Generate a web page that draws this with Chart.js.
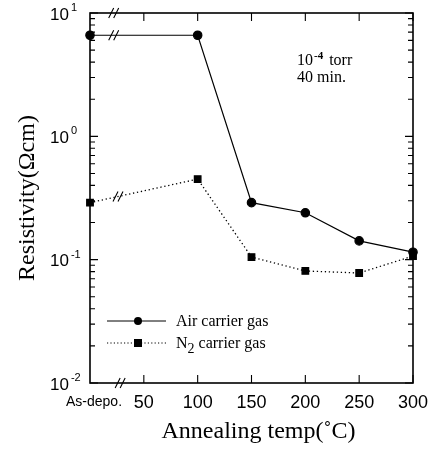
<!DOCTYPE html>
<html>
<head>
<meta charset="utf-8">
<script src="https://cdn.jsdelivr.net/npm/chart.js@4"></script>
<style>
  html, body { margin: 0; padding: 0; background: #fff; }
  #wrap { width: 435px; height: 449px; }
</style>
</head>
<body>
<div id="wrap"><canvas id="chart" width="435" height="449"></canvas></div>
<script>
// ---- data ----
const temps = [0, 100, 150, 200, 250, 300];           // 0 = as-deposited
const airRes = [6.6, 6.6, 0.29, 0.24, 0.142, 0.115];
const n2Res = [0.29, 0.45, 0.105, 0.081, 0.078, 0.107];
const seriesLabels = ["Air carrier gas", "N2 carrier gas"];

const xTicks = [50, 100, 150, 200, 250, 300];
const xTickLabels = ["50", "100", "150", "200", "250", "300"];
const firstLabel = "As-depo.";
const yExps = [1, 0, -1, -2];

const SANS = "'Liberation Sans', Arial, sans-serif";
const SERIF = "'Liberation Serif', 'Times New Roman', serif";

function pts(ys) {
  return temps.map((t, i) => ({ x: t, y: ys[i] }));
}

// draw "//" break mark
function breakMark(ctx, x, y) {
  ctx.save();
  ctx.strokeStyle = "#000";
  ctx.lineWidth = 1.1;
  ctx.beginPath();
  for (const dx of [-2.5, 2.5]) {
    ctx.moveTo(x + dx - 2.5, y + 5);
    ctx.lineTo(x + dx + 2.5, y - 5);
  }
  ctx.stroke();
  ctx.restore();
}

// text with superscript / subscript part
function richText(ctx, parts, x, y) {
  let cx = x;
  for (const p of parts) {
    ctx.font = p.font;
    ctx.fillText(p.t, cx, y + (p.dy || 0));
    cx += ctx.measureText(p.t).width + (p.gap || 0);
  }
}

const axesPlugin = {
  id: "axesPlugin",
  afterDatasetsDraw(chart) {
    const { ctx, chartArea: a, scales } = chart;
    const xs = scales.x, ys = scales.y;
    ctx.save();
    ctx.strokeStyle = "#000";
    ctx.fillStyle = "#000";

    // frame
    ctx.lineWidth = 1.6;
    ctx.strokeRect(a.left, a.top, a.right - a.left, a.bottom - a.top);

    // y ticks (major + minor), both sides, inward
    ctx.lineWidth = 1.1;
    ctx.beginPath();
    for (let e = -2; e <= 1; e++) {
      for (let m = 1; m <= 9; m++) {
        const v = m * Math.pow(10, e);
        if (v > 10.0001) continue;
        const py = ys.getPixelForValue(v);
        const len = m === 1 ? 8 : 5;
        ctx.moveTo(a.left, py); ctx.lineTo(a.left + len, py);
        ctx.moveTo(a.right, py); ctx.lineTo(a.right - len, py);
      }
    }
    // x ticks, top and bottom, inward
    for (const t of xTicks) {
      const px = xs.getPixelForValue(t);
      ctx.moveTo(px, a.bottom); ctx.lineTo(px, a.bottom - 8);
      ctx.moveTo(px, a.top); ctx.lineTo(px, a.top + 8);
    }
    ctx.stroke();

    // y tick labels
    ctx.textBaseline = "middle";
    ctx.textAlign = "left";
    for (const e of yExps) {
      const py = ys.getPixelForValue(Math.pow(10, e)) + 2;
      const sup = e < 0 ? "-" + Math.abs(e) : String(e);
      richText(ctx, [
        { t: "10", font: "17px " + SANS, gap: 2 },
        { t: sup, font: "11px " + SANS, dy: -7 }
      ], 50, py);
    }

    // x tick labels
    ctx.textAlign = "center";
    ctx.font = "18px " + SANS;
    xTicks.forEach((t, i) => {
      ctx.fillText(xTickLabels[i], xs.getPixelForValue(t), a.bottom + 20);
    });
    ctx.font = "14px " + SANS;
    ctx.fillText(firstLabel, xs.getPixelForValue(0) + 4, a.bottom + 19);

    // break marks on axes and lines
    breakMark(ctx, xs.getPixelForValue(22), a.top);
    breakMark(ctx, xs.getPixelForValue(28), a.bottom);
    breakMark(ctx, xs.getPixelForValue(22), ys.getPixelForValue(airRes[0]));
    breakMark(ctx, xs.getPixelForValue(26), ys.getPixelForValue(
      Math.pow(10, (Math.log10(n2Res[0]) * 74 + Math.log10(n2Res[1]) * 26) / 100)));

    // axis titles
    ctx.font = "24px " + SERIF;
    ctx.textAlign = "center";
    ctx.textBaseline = "alphabetic";
    ctx.fillText("Annealing temp(\u02DAC)", (a.left + a.right) / 2 + 7, 438);
    ctx.save();
    ctx.translate(34, (a.top + a.bottom) / 2);
    ctx.rotate(-Math.PI / 2);
    ctx.fillText("Resistivity(\u03A9cm)", 0, 0);
    ctx.restore();

    // annotation
    ctx.textAlign = "left";
    richText(ctx, [
      { t: "10", font: "16px " + SERIF, gap: 1 },
      { t: "-4", font: "bold 11px " + SERIF, dy: -6, gap: 6 },
      { t: "torr", font: "16px " + SERIF }
    ], 297, 65);
    ctx.font = "16px " + SERIF;
    ctx.fillText("40 min.", 297, 82);

    // legend
    const rows = [
      { y: 321, dash: [], style: "circle", parts: [{ t: "Air carrier gas", font: "16px " + SERIF }] },
      { y: 343, dash: [1.2, 2.2], style: "rect", parts: [
        { t: "N", font: "16px " + SERIF },
        { t: "2", font: "14px " + SERIF, dy: 5, gap: 4 },
        { t: "carrier gas", font: "16px " + SERIF }
      ] }
    ];
    for (const r of rows) {
      ctx.save();
      ctx.lineWidth = 1;
      ctx.setLineDash(r.dash);
      ctx.beginPath();
      ctx.moveTo(107, r.y); ctx.lineTo(166, r.y);
      ctx.stroke();
      ctx.restore();
      ctx.beginPath();
      if (r.style === "circle") ctx.arc(138, r.y, 4, 0, Math.PI * 2);
      else ctx.rect(134, r.y - 4, 8, 8);
      ctx.fill();
      richText(ctx, r.parts, 176, r.y + 5);
    }
    ctx.restore();
  }
};

new Chart(document.getElementById("chart"), {
  type: "line",
  data: {
    datasets: [
      {
        label: seriesLabels[0],
        data: pts(airRes),
        borderColor: "#000",
        backgroundColor: "#000",
        borderWidth: 1.2,
        pointStyle: "circle",
        pointRadius: 4.2,
        tension: 0,
        clip: false
      },
      {
        label: seriesLabels[1],
        data: pts(n2Res),
        borderColor: "#000",
        backgroundColor: "#000",
        borderWidth: 1.3,
        borderDash: [1.3, 2.7],
        pointStyle: "rect",
        pointRadius: 4.6,
        tension: 0,
        clip: false
      }
    ]
  },
  options: {
    responsive: false,
    animation: false,
    layout: { padding: { left: 90, top: 13, right: 22, bottom: 66 } },
    plugins: { legend: { display: false }, tooltip: { enabled: false } },
    scales: {
      x: { type: "linear", min: 0, max: 300, display: false },
      y: { type: "logarithmic", min: 0.01, max: 10, display: false }
    }
  },
  plugins: [axesPlugin]
});
</script>
</body>
</html>
